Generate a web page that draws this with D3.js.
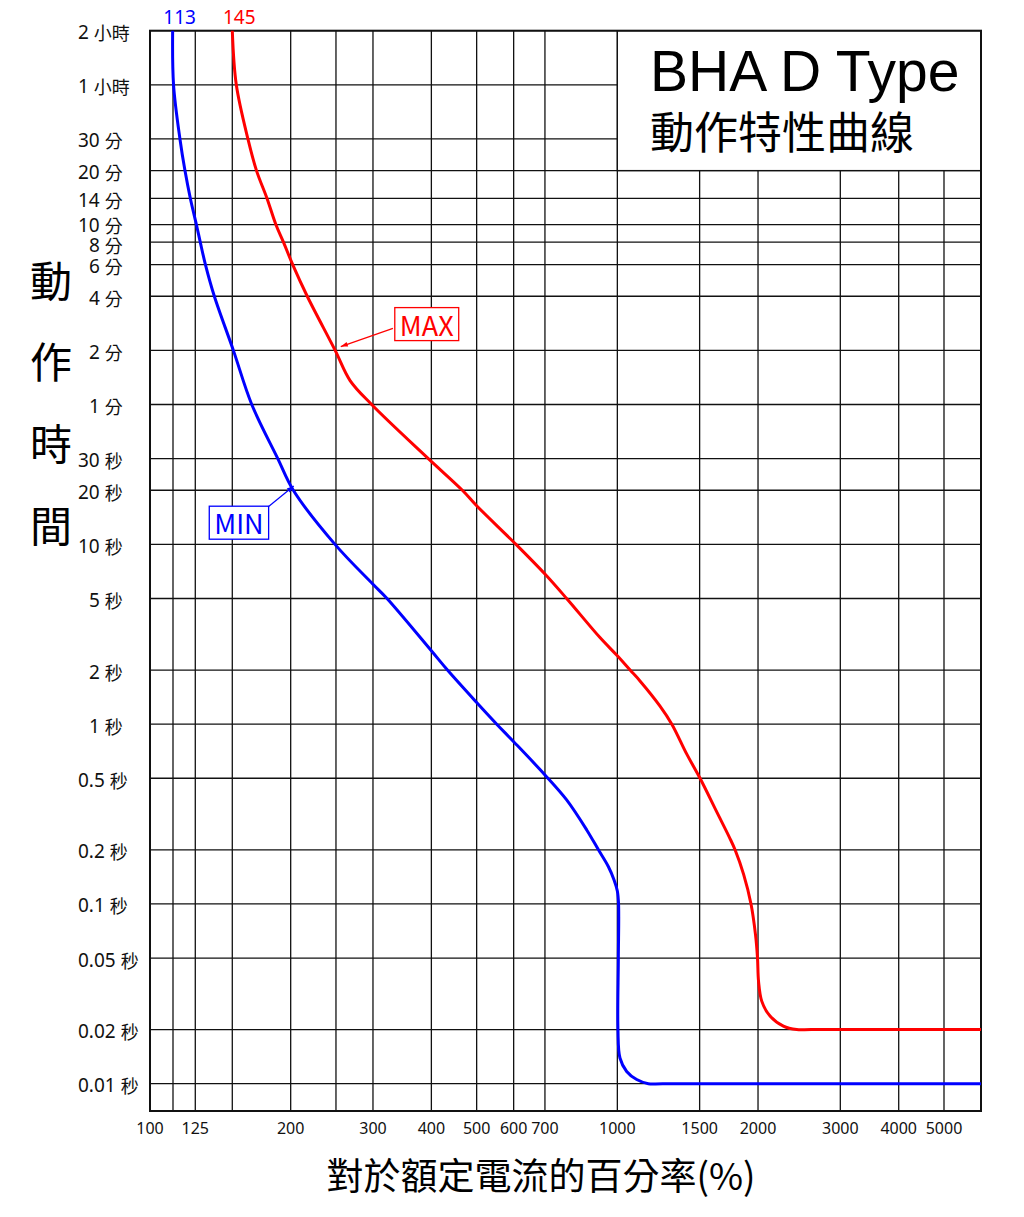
<!DOCTYPE html>
<html>
<head>
<meta charset="utf-8">
<script src="https://cdn.jsdelivr.net/npm/d3@7"></script>
<style>
  body { margin: 0; background: #fff; }
  text { font-family: "Noto Sans CJK TC", "Noto Sans", sans-serif; }
  .num { font-family: "Noto Sans", "Noto Sans CJK TC", sans-serif; }
</style>
</head>
<body>
<div id="chart"></div>
<script>
// x: percent of rated current, y: trip time in seconds
const xTickValues = [100, 125, 200, 300, 400, 500, 600, 700, 1000, 1500, 2000, 3000, 4000, 5000];
const xGridValues = [112, 125, 150, 200, 250, 300, 400, 500, 600, 700, 1000, 1500, 2000, 3000, 4000, 5000];
const yTickValues = [7200, 3600, 1800, 1200, 840, 600, 480, 360, 240, 120, 60, 30, 20, 10, 5, 2, 1, 0.5, 0.2, 0.1, 0.05, 0.02, 0.01];
const yTickLabels = ['2 小時', '1 小時', '30 分', '20 分', '14 分', '10 分', '8 分', '6 分', '4 分', '2 分', '1 分',
  '30 秒', '20 秒', '10 秒', '5 秒', '2 秒', '1 秒', '0.5 秒', '0.2 秒', '0.1 秒', '0.05 秒', '0.02 秒', '0.01 秒'];

const minCurrent = [111.8, 112.3, 115.9, 118.8, 122.0, 125.7, 128.1, 131.4, 137.3, 150.8, 165.1, 187.7, 202.6, 248.8, 300, 321.5,
  400, 433, 500, 552, 600, 700, 779, 860, 911, 957, 984, 1000, 1006, 1005, 1003, 1013, 1047, 1100, 1165, 1250, 6000];
const minTime = [7200, 3600, 1800, 1200, 840, 600, 480, 360, 240, 120, 60, 30, 20, 10, 6.0, 5,
  2.56, 2, 1.32, 1, 0.799, 0.522, 0.379, 0.258, 0.2, 0.161, 0.136, 0.118, 0.1, 0.05, 0.02, 0.0139, 0.0117, 0.01055, 0.01, 0.01, 0.01];

const maxCurrent = [150, 153, 162, 169, 178, 186, 193, 202, 217, 249, 268, 298, 394, 466, 500, 607, 700, 779, 918, 1000, 1065,
  1118, 1234, 1308, 1408, 1503, 1635, 1738, 1786, 1863, 1932, 1975, 1995, 2005, 2037, 2122, 2266, 2420, 2600, 6000];
const maxTime = [7200, 3600, 1800, 1200, 840, 600, 480, 360, 240, 120, 81.5, 60, 30, 20, 16.4, 10, 6.84, 5, 3.03, 2.4, 2,
  1.74, 1.26, 1, 0.681, 0.5, 0.322, 0.234, 0.2, 0.146, 0.1, 0.0677, 0.05, 0.0372, 0.0288, 0.0238, 0.0209, 0.02, 0.02, 0.02];

const seriesNames = ['MIN', 'MAX'];
const seriesColors = ['#0000ff', '#ff0000'];
const startLabels = ['113', '145'];

// annotation boxes with arrows, in data units
const annoBoxCurrent = [155, 391];
const annoBoxTime = [13.2, 168];
const annoFromCurrent = [177, 331];
const annoFromTime = [15.8, 159];
const annoTipCurrent = [203, 256];
const annoTipTime = [21.1, 126];

const titleText = 'BHA D Type';
const subtitleText = '動作特性曲線';
const yTitle = '動作時間';
const xTitle = '對於額定電流的百分率(%)';

function draw() {
  const width = 1024, height = 1217;
  const svg = d3.select('#chart').append('svg')
    .attr('width', width)
    .attr('height', height)
    .style('background', '#fff');

  const x = d3.scaleLog().domain([100, 6000]).range([150, 981]);
  const y = d3.scaleLog().domain([7200, 0.00705]).range([30.7, 1111]);
  const [x0, x1] = x.range();
  const [y0, y1] = y.range();

  const grid = svg.append('g').attr('stroke', '#111').attr('stroke-width', 1.3);
  grid.selectAll('line.h')
    .data(yTickValues)
    .join('line')
    .attr('class', 'h')
    .attr('x1', x0).attr('x2', x1)
    .attr('y1', d => y(d)).attr('y2', d => y(d));
  grid.selectAll('line.v')
    .data(xGridValues)
    .join('line')
    .attr('class', 'v')
    .attr('x1', d => x(d)).attr('x2', d => x(d))
    .attr('y1', y0).attr('y2', y1);

  // title box sits on top of the grid
  svg.append('rect')
    .attr('x', x(1000))
    .attr('y', y(7200))
    .attr('width', x(6000) - x(1000))
    .attr('height', y(1200) - y(7200))
    .attr('fill', '#fff')
    .attr('stroke', '#111')
    .attr('stroke-width', 1.3);

  svg.append('rect')
    .attr('x', x0).attr('y', y0)
    .attr('width', x1 - x0).attr('height', y1 - y0)
    .attr('fill', 'none')
    .attr('stroke', '#111')
    .attr('stroke-width', 2);

  svg.append('text')
    .attr('x', 650).attr('y', 91)
    .style('font-family', '"Liberation Sans", Arial, sans-serif')
    .style('font-size', '57px')
    .text(titleText);
  svg.append('text')
    .attr('x', 650).attr('y', 149)
    .style('font-size', '44px')
    .text(subtitleText);

  // y tick label positions, spread apart where two ticks sit very close
  const labelY = yTickValues.map(d => y(d) + 1.5);
  for (let i = 1; i < labelY.length; i++) {
    const gap = labelY[i] - labelY[i - 1];
    if (gap < 20) {
      const push = (20 - gap) / 2;
      labelY[i - 1] -= push;
      labelY[i] += push;
    }
  }

  // y tick labels: number + unit, single digits padded by one digit width
  const probe = svg.append('text').attr('class', 'num').style('font-size', '19px').text('0');
  const digitW = probe.node().getComputedTextLength();
  probe.remove();
  const yLabels = svg.selectAll('text.ytick')
    .data(yTickValues)
    .join('text')
    .attr('class', 'ytick num')
    .attr('x', (d, i) => /^\d [分秒]/.test(yTickLabels[i]) ? 78 + digitW : 78)
    .attr('y', (d, i) => labelY[i])
    .attr('dominant-baseline', 'central')
    .attr('fill', '#111');
  yLabels.append('tspan')
    .style('font-size', '19px')
    .text((d, i) => yTickLabels[i].split(' ')[0] + ' ');
  yLabels.append('tspan')
    .style('font-size', '18px')
    .style('font-family', '"Noto Sans CJK TC", sans-serif')
    .text((d, i) => yTickLabels[i].split(' ')[1]);

  svg.selectAll('text.xtick')
    .data(xTickValues)
    .join('text')
    .attr('class', 'xtick num')
    .attr('x', d => x(d))
    .attr('y', 1134)
    .attr('text-anchor', 'middle')
    .style('font-size', '16px')
    .attr('fill', '#111')
    .text(d => d);

  svg.append('text')
    .attr('x', 541).attr('y', 1190)
    .attr('text-anchor', 'middle')
    .style('font-size', '37px')
    .text(xTitle);

  svg.append('g').selectAll('text')
    .data(Array.from(yTitle))
    .join('text')
    .attr('x', 51)
    .attr('y', (d, i) => 278 + i * 81.7)
    .attr('text-anchor', 'middle')
    .attr('dominant-baseline', 'central')
    .style('font-size', '42px')
    .text(d => d);

  const line = d3.line()
    .x(d => x(d[0]))
    .y(d => y(d[1]))
    .curve(d3.curveCatmullRom.alpha(0.5));

  const series = [
    d3.zip(minCurrent, minTime),
    d3.zip(maxCurrent, maxTime)
  ];

  svg.append('g').selectAll('path')
    .data(series)
    .join('path')
    .attr('fill', 'none')
    .attr('stroke', (d, i) => seriesColors[i])
    .attr('stroke-width', 3)
    .attr('d', line);

  svg.selectAll('text.start')
    .data(series)
    .join('text')
    .attr('class', 'start num')
    .attr('x', d => x(d[0][0]) + 7)
    .attr('y', 24)
    .attr('text-anchor', 'middle')
    .style('font-size', '19px')
    .attr('fill', (d, i) => seriesColors[i])
    .text((d, i) => startLabels[i]);

  const defs = svg.append('defs');
  seriesColors.forEach((c, i) => {
    defs.append('marker')
      .attr('id', 'arrow' + i)
      .attr('viewBox', '0 0 10 10')
      .attr('refX', 10).attr('refY', 5)
      .attr('markerWidth', 10).attr('markerHeight', 7)
      .attr('markerUnits', 'userSpaceOnUse')
      .attr('orient', 'auto')
      .append('path')
      .attr('d', 'M0,1.5L10,5L0,8.5Z')
      .attr('fill', c);
  });

  seriesNames.forEach((name, i) => {
    const g = svg.append('g');
    g.append('line')
      .attr('x1', x(annoFromCurrent[i])).attr('y1', y(annoFromTime[i]))
      .attr('x2', x(annoTipCurrent[i])).attr('y2', y(annoTipTime[i]))
      .attr('stroke', seriesColors[i])
      .attr('stroke-width', 1.2)
      .attr('marker-end', `url(#arrow${i})`);
    const rect = g.append('rect')
      .attr('fill', '#fff')
      .attr('stroke', seriesColors[i])
      .attr('stroke-width', 1.3);
    const t = g.append('text')
      .attr('x', x(annoBoxCurrent[i]))
      .attr('y', y(annoBoxTime[i]))
      .attr('text-anchor', 'middle')
      .attr('dominant-baseline', 'central')
      .style('font-size', '27px')
      .attr('fill', seriesColors[i])
      .text(name);
    const w = t.node().getComputedTextLength();
    rect.attr('x', x(annoBoxCurrent[i]) - w / 2 - 5)
      .attr('y', y(annoBoxTime[i]) - 16.5)
      .attr('width', w + 10)
      .attr('height', 33);
  });
}

draw();
</script>
</body>
</html>
